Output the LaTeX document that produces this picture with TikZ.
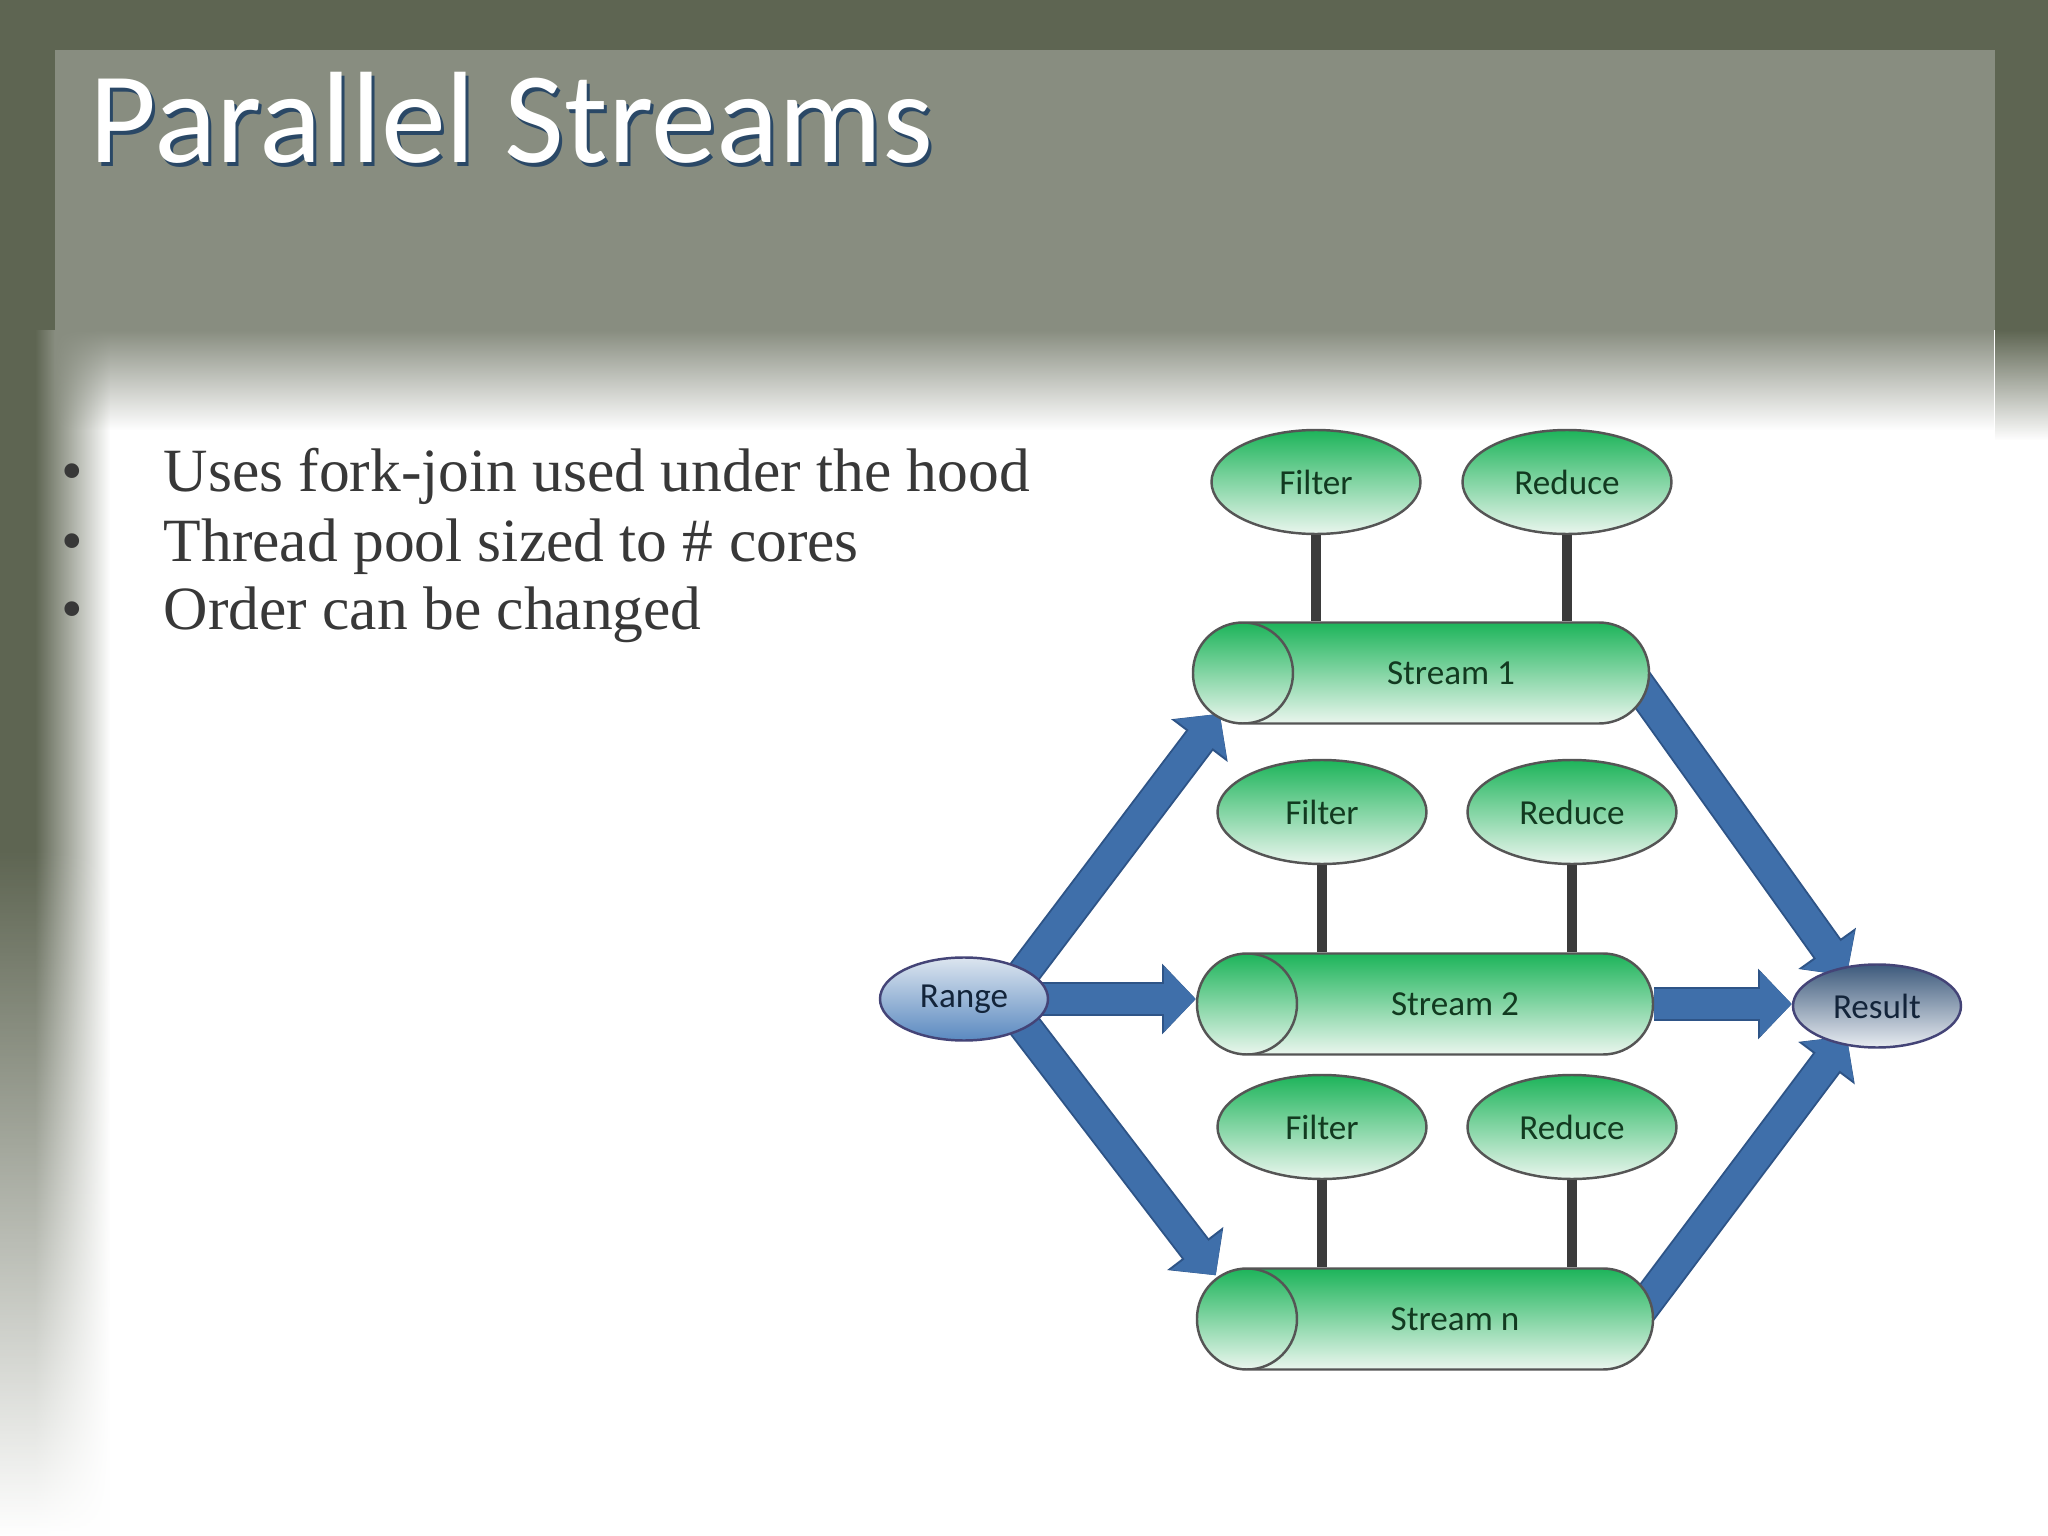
\documentclass[tikz,border=0pt]{standalone}
\usepackage{fontspec}
\setmainfont{Liberation Serif}
\newfontfamily\diagfont{Carlito}
\usetikzlibrary{shapes.geometric,arrows.meta,fadings}

\definecolor{slidedark}{HTML}{5E6552}
\definecolor{slidepanel}{HTML}{888D80}
\definecolor{titleshade}{HTML}{2A4866}
\definecolor{bullettext}{HTML}{383838}
\definecolor{arrowblue}{HTML}{3F6FAA}
\definecolor{arrowedge}{HTML}{2E5487}
\definecolor{pipegreen}{HTML}{1DB45A}
\definecolor{pipepale}{HTML}{EAF6EE}
\definecolor{edgegrey}{HTML}{555555}
\definecolor{stickgrey}{HTML}{3B3B3B}
\definecolor{textgreen}{HTML}{123A20}
\definecolor{rangetop}{HTML}{DCE5EF}
\definecolor{rangebot}{HTML}{5A89C0}
\definecolor{resulttop}{HTML}{3D5A7C}
\definecolor{resultbot}{HTML}{E8ECF1}
\definecolor{endtext}{HTML}{13243A}

\pgfdeclarelayer{slide}
\pgfdeclarelayer{links}
\pgfsetlayers{slide,links,main}

\begin{document}
\begin{tikzpicture}[y=-1cm,
    op/.style={ellipse, draw=edgegrey, line width=0.7pt, top color=pipegreen, bottom color=pipepale,
      minimum width=2.09cm, minimum height=1.04cm, inner sep=0pt,
      font=\diagfont\fontsize{10}{12}\selectfont, text=textgreen},
    pipe/.style={rectangle, rounded corners=0.5cm, draw=edgegrey, line width=0.7pt,
      top color=pipegreen, bottom color=pipepale,
      minimum width=4.56cm, minimum height=1.01cm, inner sep=0pt,
      font=\diagfont\fontsize{10}{12}\selectfont, text=textgreen,
      path picture={\draw[edgegrey, line width=0.7pt]
        ([xshift=0.5cm]path picture bounding box.north west)
        arc[start angle=90, end angle=-90, x radius=0.5cm, y radius=0.505cm];}},
    ends/.style={ellipse, draw=edgegrey!80!blue, line width=0.7pt,
      minimum width=1.68cm, minimum height=0.83cm, inner sep=0pt,
      font=\diagfont\fontsize{10}{12}\selectfont, text=endtext},
    stick/.style={line width=2.6pt, draw=stickgrey},
    fat/.style={line width=8.5pt, draw=arrowblue, -{Triangle[length=9pt,width=18pt]},
      preaction={draw=arrowedge, line width=9.6pt, -{Triangle[length=9.6pt,width=19.6pt]}}}
  ]

  \begin{pgfonlayer}{slide}
    \useasboundingbox (0,0) rectangle (20.48,15.36);
    \fill[white] (0,0) rectangle (20.48,15.36);
    \fill[slidedark] (0,0) rectangle (0.35,15.36);
    \fill[slidedark, path fading=east] (0.35,0) rectangle (1.1,15.36);
    \fill[white, path fading=north] (0,8.5) rectangle (1.2,15.36);
    \fill[slidedark] (0,0) rectangle (20.48,3.3);
    \fill[slidedark, path fading=south] (19.95,3.3) rectangle (20.48,4.4);
    \fill[slidepanel] (0.55,0.5) rectangle (19.95,3.3);
    \fill[slidepanel, path fading=south] (0.55,3.3) rectangle (19.95,4.3);
  \end{pgfonlayer}

  \node[anchor=base west, inner sep=0pt, font=\diagfont\fontsize{37}{44}\selectfont, text=titleshade]
    (titleshadow) at (0.92,1.67) {Parallel Streams};
  \node[anchor=base west, inner sep=0pt, font=\diagfont\fontsize{37}{44}\selectfont, text=white]
    (title) at (0.89,1.63) {Parallel Streams};

  \foreach \t [count=\i] in {Uses fork-join used under the hood, Thread pool sized to \# cores, Order can be changed} {
    \node[anchor=base, inner sep=0pt, font=\fontsize{17.5}{21}\selectfont, text=bullettext]
      (dot\i) at (0.72,{4.23+0.69*\i}) {•};
    \node[anchor=base west, inner sep=0pt, font=\fontsize{17.5}{21}\selectfont, text=bullettext]
      (item\i) at (1.63,{4.23+0.69*\i}) {\t};
  }

  \node[op] (f1) at (13.16,4.82) {Filter};
  \node[op] (r1) at (15.67,4.82) {Reduce};
  \node[pipe] (s1) at (14.21,6.73) {\hspace*{0.6cm}Stream 1};

  \node[op] (f2) at (13.22,8.12) {Filter};
  \node[op] (r2) at (15.72,8.12) {Reduce};
  \node[pipe] (s2) at (14.25,10.04) {\hspace*{0.6cm}Stream 2};

  \node[op] (f3) at (13.22,11.27) {Filter};
  \node[op] (r3) at (15.72,11.27) {Reduce};
  \node[pipe] (sn) at (14.25,13.19) {\hspace*{0.6cm}Stream n};

  \node[ends, top color=rangetop, bottom color=rangebot] (range) at (9.64,9.99) {Range};
  \node[ends, top color=resulttop, bottom color=resultbot] (result) at (18.77,10.06) {Result};

  \draw[stick] (f1) -- (f1 |- s1.north);
  \draw[stick] (r1) -- (r1 |- s1.north);
  \draw[stick] (f2) -- (f2 |- s2.north);
  \draw[stick] (r2) -- (r2 |- s2.north);
  \draw[stick] (f3) -- (f3 |- sn.north);
  \draw[stick] (r3) -- (r3 |- sn.north);

  \begin{pgfonlayer}{links}
    \draw[fat] ([xshift=4mm]range.center) -- ([shift={(0.28,-0.11)}]s1.south west);
    \draw[fat] (range.center) -- (range.center -| s2.west);
    \draw[fat] ([xshift=4mm]range.center) -- ([shift={(0.2,0.08)}]sn.north west);
    \draw[fat] ([xshift=-2mm]s1.east) -- ([xshift=3mm]result.north west);
    \draw[fat] (s2.east) -- (s2.east -| result.west);
    \draw[fat] ([xshift=-2mm]sn.east) -- ([xshift=3mm]result.south west);
  \end{pgfonlayer}
\end{tikzpicture}
\end{document}
